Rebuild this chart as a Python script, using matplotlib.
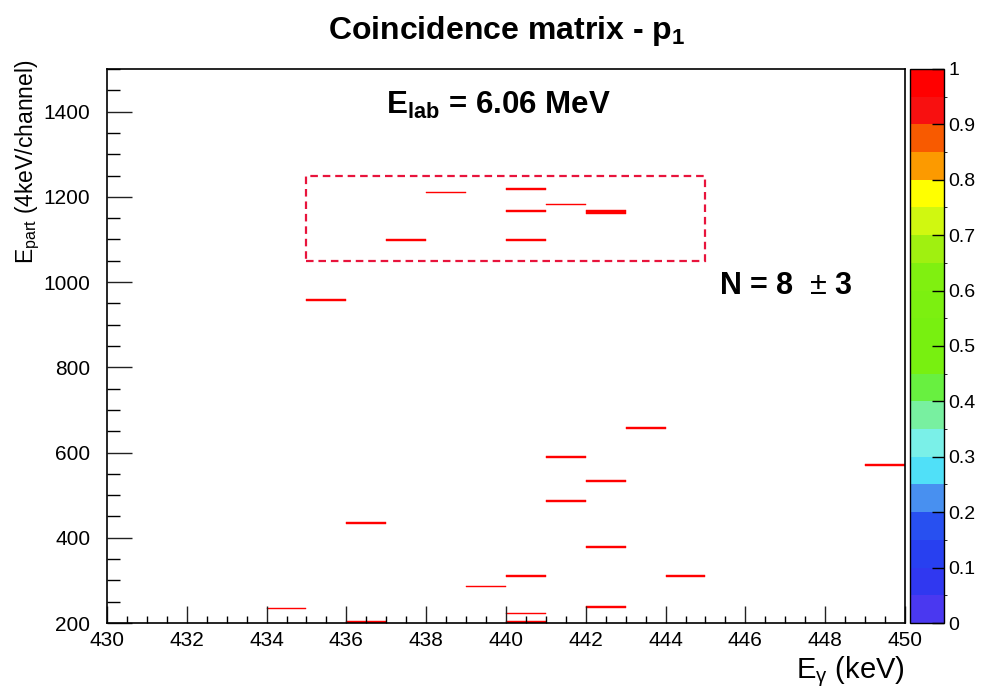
import numpy as np
import matplotlib
matplotlib.use("Agg")
import matplotlib.pyplot as plt
from matplotlib.colors import ListedColormap, BoundaryNorm
from matplotlib.patches import Rectangle

plt.rcParams['font.family'] = ['Liberation Sans', 'DejaVu Sans']
plt.rcParams['mathtext.fontset'] = 'custom'
plt.rcParams['mathtext.rm'] = 'Liberation Sans'
plt.rcParams['mathtext.it'] = 'Liberation Sans:italic'
plt.rcParams['mathtext.bf'] = 'Liberation Sans:bold'

# coincidence events: gamma-energy bin (lower edge, keV) and particle energy
e_gamma = [438, 437, 435, 440, 440, 440, 441, 442, 442,
           443, 441, 449, 442, 441, 436, 442, 440, 444,
           439, 434, 442, 440, 436, 440]
e_part = [1208, 1096, 956, 1216, 1164, 1096, 1180, 1160, 1164,
          656, 588, 568, 532, 484, 432, 376, 308, 308,
          284, 232, 236, 220, 200, 200]

x_edges = np.arange(430, 451, 1)
y_edges = np.arange(200, 1504, 4)

# old ROOT "pretty" palette, 20 contour levels
palette = ['#4a38f0', '#3038f0', '#2840f0', '#2850f0', '#4890f0',
           '#50e0f8', '#7af0e8', '#78f0a0', '#68f040', '#78f010',
           '#78f010', '#7cf010', '#80f010', '#a0f010', '#d0f810',
           '#ffff00', '#fc9a00', '#f85a00', '#f81010', '#ff0000']
levels = np.linspace(0, 1, 21)

counts, _, _ = np.histogram2d(e_gamma, e_part, bins=[x_edges, y_edges])
counts = np.ma.masked_equal(counts.T, 0)

fig = plt.figure(figsize=(9.98, 6.91), dpi=100)
ax = fig.add_axes([0.1072, 0.0984, 0.7996, 0.8018])
cax = fig.add_axes([0.9118, 0.0984, 0.034, 0.8018])

cmap = ListedColormap(palette)
cmap.set_over(palette[-1])
norm = BoundaryNorm(levels, cmap.N, clip=True)
mesh = ax.pcolormesh(x_edges, y_edges, counts, cmap=cmap, norm=norm,
                     edgecolors='face', linewidth=0.3, antialiased=True)

# selection window
ax.add_patch(Rectangle((435, 1050), 10, 200, fill=False, edgecolor='#e8143c',
                       linewidth=1.6, linestyle=(0, (3.4, 2.2))))

ax.set_xlim(430, 450)
ax.set_ylim(200, 1500)
ax.set_xticks(np.arange(430, 451, 2))
ax.set_xticks(np.arange(430, 450.1, 0.5), minor=True)
ax.set_yticks(np.arange(200, 1401, 200))
ax.set_yticks(np.arange(200, 1501, 50), minor=True)
ax.tick_params(axis='both', direction='in', labelsize=15, width=1.0,
               top=False, right=False, color='#222222')
ax.tick_params(axis='x', which='major', length=12, pad=6)
ax.tick_params(axis='x', which='minor', length=5, width=1.0, direction='in')
ax.tick_params(axis='y', which='major', length=18, pad=12)
ax.tick_params(axis='y', which='minor', length=9.5, width=1.0, direction='in')
for s in ax.spines.values():
    s.set_linewidth(1.2)

ax.set_xlabel(r'E$_{\mathrm{\gamma}}$ (keV)', fontsize=21, loc='right', labelpad=3)
ax.set_ylabel(r'E$_{\mathrm{part}}$ (4keV/channel)', fontsize=16.5, loc='top')
ax.yaxis.set_label_coords(-0.081, 1.017)

fig.text(0.508, 0.955, r'Coincidence matrix - p$_{\mathbf{1}}$', fontsize=23,
         fontweight='bold', ha='center', va='center')
ax.text(437.0, 1415, r'$\mathbf{E_{lab}}$ = 6.06 MeV', fontsize=22.5,
        fontweight='bold', ha='left', va='center')
ax.text(445.35, 990, r'N = 8  $\pm$ 3', fontsize=22, fontweight='bold',
        ha='left', va='center')

cb = fig.colorbar(mesh, cax=cax, ticks=np.arange(0, 1.01, 0.1))
cb.ax.set_yticklabels(['0', '0.1', '0.2', '0.3', '0.4', '0.5', '0.6', '0.7',
                       '0.8', '0.9', '1'])
cb.ax.tick_params(direction='in', length=9, width=1.0, labelsize=14, pad=3)
cb.outline.set_linewidth(1.0)

fig.savefig('out.png', dpi=100)
